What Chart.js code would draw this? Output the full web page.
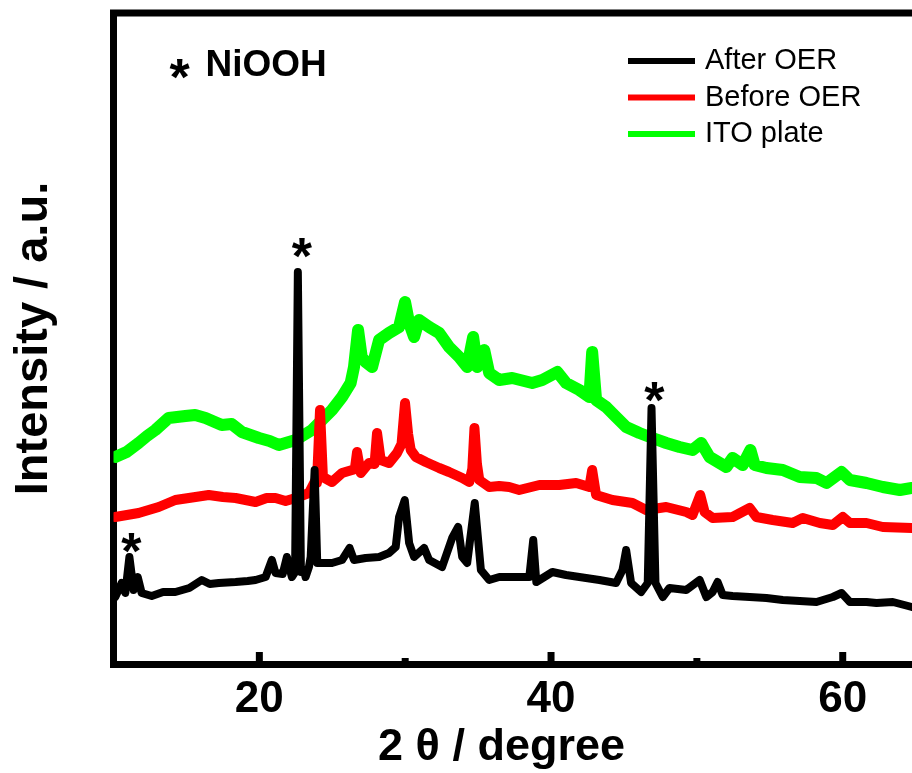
<!DOCTYPE html>
<html>
<head>
<meta charset="utf-8">
<script src="https://cdn.jsdelivr.net/npm/chart.js@4/dist/chart.umd.min.js"></script>
<style>
  body { margin: 0; background: #fff; }
  #wrap { width: 912px; height: 773px; }
</style>
</head>
<body>
<div id="wrap"><canvas id="xrdchart"></canvas></div>
<script>
// 2theta (degree) / intensity (a.u.) pairs
const afterOER = [[10.12,67],[10.56,81],[10.81,71],[11.09,107],[11.38,74],[11.66,87],[11.93,71],[12.62,68],[13.40,72],[14.24,72],
  [15.20,76],[16.05,84],[16.60,80],[17.22,81],[18.37,82],[19.20,83],[19.74,84],[20.43,87],[20.86,104],[21.11,91],
  [21.60,90],[21.89,107],[22.23,87],[22.45,92],[22.64,392],[22.85,92],[23.06,94],[23.17,87],[23.40,97],[23.52,107],
  [23.79,194],[23.97,101],[24.36,101],[24.98,101],[25.67,104],[26.19,116],[26.49,104],[27.29,106],[28.21,107],[28.89,111],
  [29.35,117],[29.58,147],[29.97,164],[30.27,121],[30.61,107],[31.30,116],[31.64,104],[32.53,97],[33.22,126],[33.63,137],
  [33.91,107],[34.25,101],[34.77,161],[35.19,94],[35.76,84],[36.45,87],[37.60,87],[38.51,87],[38.78,124],[38.99,82],
  [40.09,92],[41.03,89],[42.40,86],[43.32,84],[44.46,81],[44.90,94],[45.15,114],[45.49,81],[46.18,72],[46.63,81],
  [46.89,256],[47.16,81],[47.66,67],[48.12,76],[49.27,74],[50.19,84],[50.65,67],[51.08,72],[51.42,82],[51.77,69],
  [52.45,68],[53.62,67],[54.77,66],[55.89,64],[57.05,63],[58.20,62],[59.32,67],[59.92,71],[60.49,62],[61.63,62],
  [62.32,61],[63.44,62],[64.74,57]];

const beforeOER = [[10.12,147],[11.72,151],[13.10,157],[14.24,164],[15.62,167],[16.53,169],[17.50,167],[18.37,166],[19.74,162],[20.50,166],
  [21.11,166],[21.80,163],[22.49,166],[23.40,171],[23.86,184],[23.95,181],[24.16,254],[24.36,187],[24.98,182],[25.67,191],
  [26.36,194],[26.55,195],[26.70,212],[26.95,191],[27.52,201],[27.90,200],[28.07,231],[28.32,204],[28.89,201],[29.44,211],
  [29.75,220],[29.99,261],[30.20,230],[30.38,214],[30.73,207],[31.41,202],[32.33,196],[33.01,192],[33.91,186],[34.39,182],
  [34.60,195],[34.75,236],[34.92,200],[35.08,184],[35.76,177],[36.45,178],[37.13,177],[37.82,174],[39.20,179],[40.57,179],
  [41.72,181],[42.63,177],[42.82,194],[43.09,169],[44.21,164],[45.58,161],[46.52,154],[47.90,157],[49.27,152],[49.70,149],
  [50.23,169],[50.53,152],[51.08,146],[52.45,147],[53.62,156],[54.08,147],[55.20,144],[56.57,141],[57.26,146],[58.43,141],
  [59.32,139],[60.01,147],[60.49,141],[61.63,141],[62.75,137],[64.74,136]];

const itoPlate = [[10.12,207],[10.90,212],[11.72,221],[12.30,228],[12.87,234],[13.78,246],[14.93,248],[15.60,249],[16.31,246],[17.42,239],
  [18.10,240],[18.80,232],[19.97,226],[20.70,223],[21.34,219],[22.49,224],[23.61,234],[24.09,241],[24.98,254],[25.67,267],
  [26.26,281],[26.49,297],[26.77,334],[27.02,307],[27.29,302],[27.73,297],[28.21,324],[28.89,331],[29.58,337],[29.99,362],
  [30.27,341],[30.61,327],[30.95,344],[31.64,337],[32.33,331],[33.01,317],[33.70,307],[34.25,297],[34.66,327],[34.94,297],
  [35.42,314],[35.76,291],[36.45,284],[37.34,286],[38.71,281],[39.40,284],[40.43,292],[41.03,281],[41.94,274],[42.63,267],
  [42.82,312],[43.09,264],[43.78,257],[44.46,247],[45.15,237],[46.06,231],[46.96,226],[47.90,221],[48.81,217],[49.70,214],
  [50.30,221],[50.87,207],[52.02,197],[52.45,206],[53.14,199],[53.67,214],[53.96,199],[54.77,196],[55.89,194],[57.05,187],
  [58.20,186],[58.89,181],[59.92,192],[60.49,184],[61.63,181],[62.75,177],[63.92,174],[64.74,176]];

const seriesNames = ['After OER', 'Before OER', 'ITO plate'];
const seriesColors = ['#000000', '#ff0000', '#00ff00'];

// NiOOH peak markers (2theta, intensity where the * sits)
const starTheta = [11.22, 22.92, 47.09];
const starInt = [124, 419, 275];

const xTickLabels = [20, 40, 60];
const xMinorTicks = [30, 50];

const FONT = "'Liberation Sans', Arial, Helvetica, sans-serif";

// top frame line, inward ticks, * markers and the legend box
const extras = {
    id: 'extras',
    afterDraw(chart) {
        const { ctx, chartArea: a, scales: { x, y } } = chart;
        ctx.save();
        ctx.strokeStyle = '#000';
        ctx.lineWidth = 7;
        ctx.lineCap = 'butt';
        ctx.beginPath();
        ctx.moveTo(a.left - 3.5, a.top);
        ctx.lineTo(a.right, a.top);
        ctx.stroke();

        xTickLabels.forEach(v => {
            const px = x.getPixelForValue(v);
            ctx.beginPath();
            ctx.moveTo(px, a.bottom);
            ctx.lineTo(px, a.bottom - 12);
            ctx.stroke();
        });
        xMinorTicks.forEach(v => {
            const px = x.getPixelForValue(v);
            ctx.beginPath();
            ctx.moveTo(px, a.bottom);
            ctx.lineTo(px, a.bottom - 6);
            ctx.stroke();
        });

        ctx.fillStyle = '#000';
        ctx.textAlign = 'center';
        ctx.textBaseline = 'alphabetic';
        ctx.font = 'bold 52px ' + FONT;
        starTheta.forEach((t, i) => {
            ctx.fillText('*', x.getPixelForValue(t), y.getPixelForValue(starInt[i]) + 29);
        });

        // "* NiOOH" note
        ctx.fillText('*', a.left + 66, 95);
        ctx.textAlign = 'left';
        ctx.textBaseline = 'middle';
        ctx.font = 'bold 37px ' + FONT;
        ctx.fillText('NiOOH', a.left + 92, 66);

        // legend
        ctx.font = '29px ' + FONT;
        chart.data.datasets.forEach((ds, i) => {
            const ly = 61 + i * 36.5;
            ctx.strokeStyle = ds.borderColor;
            ctx.lineWidth = 6;
            ctx.beginPath();
            ctx.moveTo(628, ly);
            ctx.lineTo(695, ly);
            ctx.stroke();
            ctx.fillStyle = '#000';
            ctx.fillText(ds.label, 705, ly);
        });
        ctx.restore();
    }
};

const ctx = document.getElementById('xrdchart').getContext('2d');
const widths = [8, 10, 12];
const myChart = new Chart(ctx, {
    type: 'line',
    data: {
        datasets: [afterOER, beforeOER, itoPlate].map((s, i) => ({
            label: seriesNames[i],
            data: s.map(p => ({ x: p[0], y: p[1] })),
            borderColor: seriesColors[i],
            backgroundColor: seriesColors[i],
            borderWidth: widths[i],
            borderJoinStyle: 'round',
            borderCapStyle: 'round',
            pointRadius: 0,
            tension: 0,
            fill: false,
        })),
    },
    options: {
        responsive: true,
        maintainAspectRatio: false,
        animation: false,
        layout: {
            padding: { left: 11, top: 13, right: 0, bottom: 0 }
        },
        plugins: {
            legend: { display: false },
            tooltip: { enabled: false }
        },
        scales: {
            x: {
                type: 'linear',
                min: 10,
                max: 64.75,
                afterBuildTicks: scale => {
                    scale.ticks = xTickLabels.map(v => ({ value: v }));
                },
                ticks: {
                    color: '#000',
                    padding: 14,
                    maxRotation: 0,
                    font: { family: FONT, size: 44, weight: 'bold', lineHeight: 1 }
                },
                grid: { display: false, drawTicks: false },
                border: { display: true, width: 7, color: '#000' },
                title: {
                    display: true,
                    // trailing en space nudges the centred title left, as in the original
                    text: '2 θ / degree\u2002',
                    color: '#000',
                    padding: { top: -11, bottom: 3 },
                    font: { family: FONT, size: 45, weight: 'bold', lineHeight: 1 }
                }
            },
            y: {
                min: 0,
                max: 651,
                ticks: { display: false },
                grid: { display: false, drawTicks: false },
                border: { display: true, width: 7, color: '#000' },
                title: {
                    display: true,
                    text: 'Intensity / a.u.',
                    color: '#000',
                    padding: { top: 0, bottom: 55.5 },
                    font: { family: FONT, size: 47, weight: 'bold', lineHeight: 1 }
                }
            }
        }
    },
    plugins: [extras]
});
</script>
</body>
</html>
